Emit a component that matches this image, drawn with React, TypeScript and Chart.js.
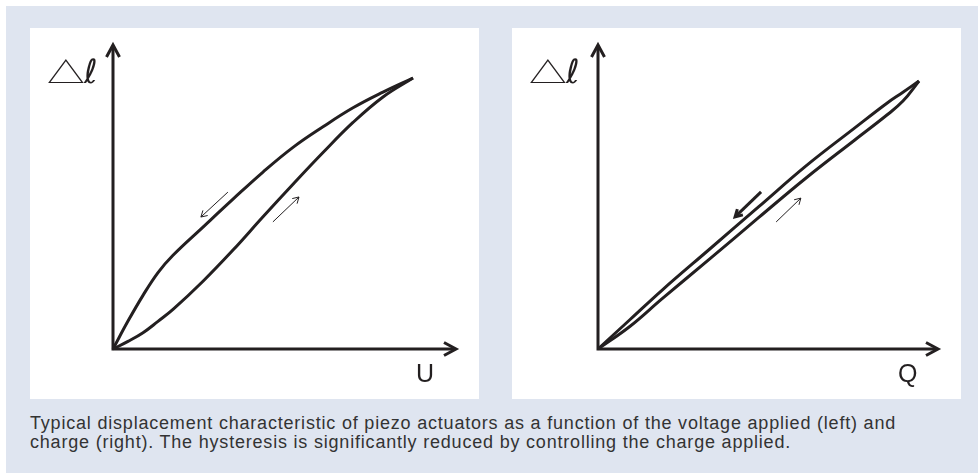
import React, { useEffect, useRef } from "react";
import { Chart, registerables } from "chart.js";

Chart.register(...registerables);

// ---- Data (axis units: 0..100 from origin to the loop's turning point) ----
// Left panel: displacement vs. voltage U
const voltageRiseX = [0, 5, 10, 15, 20, 30, 40, 50, 60, 70, 80, 90, 100];
const voltageRiseY = [0, 2.8, 6, 10.2, 14.6, 25, 36.5, 48.8, 60.8, 72.5, 83.6, 93, 100];
const voltageFallX = [0, 5, 10, 15, 20, 30, 40, 50, 60, 70, 80, 90, 100];
const voltageFallY = [0, 10.3, 19.8, 28.2, 34.6, 45, 55.3, 65.3, 74.4, 82, 89, 94.8, 100];

// Right panel: displacement vs. charge Q
const chargeRiseX = [0, 10, 20, 35, 50, 65, 80, 90, 95, 100];
const chargeRiseY = [0, 8.5, 18.8, 33.8, 49, 64, 78, 87.3, 92.5, 100];
const chargeFallX = [0, 10, 20, 35, 50, 65, 80, 90, 95, 100];
const chargeFallY = [0, 11, 22, 37.5, 53, 68.5, 82.5, 91.7, 95.8, 100];

// Direction arrows: [xStart, yStart, xHead, yHead]
const voltageFallArrow = [38.3, 57.9, 29.3, 48.7];
const voltageRiseArrow = [53.3, 46.9, 62, 56.1];
const chargeFallArrow = [50.8, 58.6, 42.7, 49.3];
const chargeRiseArrow = [55.5, 47.4, 63.2, 56.3];

// Axis extents (arrow tips)
const voltageAxisMax = [114.33, 112.18];
const chargeAxisMax = [105.92, 113.43];

// Texts
const yAxisTriangle = "△";
const yAxisEll = "ℓ";
const voltageLabel = "U";
const chargeLabel = "Q";
const captionLines = [
  "Typical displacement characteristic of piezo actuators as a function of the voltage applied (left) and",
  "charge (right). The hysteresis is significantly reduced by controlling the charge applied.",
];

const INK = "#231f20";
const BG = "#dfe5f0";

function chevron(
  ctx: CanvasRenderingContext2D,
  fx: number,
  fy: number,
  tx: number,
  ty: number,
  len: number,
  half: number
) {
  const dx = tx - fx;
  const dy = ty - fy;
  const d = Math.hypot(dx, dy) || 1;
  const ux = dx / d;
  const uy = dy / d;
  const bx = tx - ux * len;
  const by = ty - uy * len;
  ctx.beginPath();
  ctx.moveTo(bx - uy * half, by + ux * half);
  ctx.lineTo(tx, ty);
  ctx.lineTo(bx + uy * half, by - ux * half);
  ctx.stroke();
}

type PanelProps = {
  left: number;
  riseX: number[];
  riseY: number[];
  fallX: number[];
  fallY: number[];
  fallArrow: number[];
  riseArrow: number[];
  axisMax: number[];
  xLabel: string;
  padLeft: number;
  thickFall: boolean;
};

function Panel(p: PanelProps) {
  const ref = useRef<HTMLCanvasElement>(null);
  useEffect(() => {
    if (!ref.current) return;
    const pts = (xs: number[], ys: number[]) => xs.map((x, i) => ({ x, y: ys[i] }));
    const decor = {
      id: "decor",
      afterDatasetsDraw(chart: any) {
        const { ctx } = chart;
        const xs = chart.scales.x;
        const ys = chart.scales.y;
        const ox = xs.getPixelForValue(0);
        const oy = ys.getPixelForValue(0);
        const xr = xs.getPixelForValue(p.axisMax[0]);
        const yt = ys.getPixelForValue(p.axisMax[1]);
        ctx.save();
        ctx.strokeStyle = INK;
        ctx.fillStyle = INK;
        ctx.lineWidth = 3;
        ctx.lineJoin = "miter";
        ctx.lineCap = "butt";
        ctx.beginPath();
        ctx.moveTo(ox, yt + 1);
        ctx.lineTo(ox, oy);
        ctx.lineTo(xr - 1, oy);
        ctx.stroke();
        chevron(ctx, ox, oy, ox, yt, 12, 6.5);
        chevron(ctx, ox, oy, xr, oy, 12, 6.5);

        // direction arrows
        const drawArrow = (a: number[], thick: boolean) => {
          const x1 = xs.getPixelForValue(a[0]);
          const y1 = ys.getPixelForValue(a[1]);
          const x2 = xs.getPixelForValue(a[2]);
          const y2 = ys.getPixelForValue(a[3]);
          ctx.lineWidth = thick ? 3 : 1;
          ctx.beginPath();
          ctx.moveTo(x1, y1);
          ctx.lineTo(x2, y2);
          ctx.stroke();
          chevron(ctx, x1, y1, x2, y2, thick ? 7 : 6, thick ? 4 : 3.5);
        };
        drawArrow(p.fallArrow, p.thickFall);
        drawArrow(p.riseArrow, false);

        // labels
        ctx.textBaseline = "alphabetic";
        ctx.textAlign = "left";
        const lx = ox - p.padLeft;
        ctx.save();
        ctx.translate(lx + 17, yt + 37.5);
        ctx.scale(1.08, 0.8);
        ctx.font = '35px "Noto Sans CJK SC"';
        ctx.fillText(yAxisTriangle, 0, 0);
        ctx.restore();
        ctx.font = '33px "DejaVu Sans"';
        ctx.fillText(yAxisEll, lx + 54, yt + 38);
        ctx.font = '25px "Liberation Sans"';
        ctx.fillText(p.xLabel, xr - 40, oy + 33);
        ctx.restore();
      },
    };
    const lineStyle = {
      showLine: true,
      borderColor: INK,
      borderWidth: 3,
      pointRadius: 0,
      tension: 0.4,
      clip: false,
    };
    const chart = new Chart(ref.current, {
      type: "scatter",
      data: {
        datasets: [
          { data: pts(p.riseX, p.riseY), ...lineStyle } as any,
          { data: pts(p.fallX, p.fallY), ...lineStyle } as any,
        ],
      },
      options: {
        animation: false,
        responsive: false,
        events: [],
        layout: { padding: { left: p.padLeft, right: 23, top: 17, bottom: 50 } },
        plugins: { legend: { display: false }, tooltip: { enabled: false } },
        scales: {
          x: { type: "linear", display: false, min: 0, max: p.axisMax[0] },
          y: { type: "linear", display: false, min: 0, max: p.axisMax[1] },
        },
      },
      plugins: [decor],
    });
    return () => chart.destroy();
  }, []);
  return (
    <div
      style={{
        position: "absolute",
        left: p.left,
        top: 28,
        width: 449,
        height: 371,
        background: "#ffffff",
      }}
    >
      <canvas ref={ref} width={449} height={371} style={{ width: 449, height: 371, display: "block" }} />
    </div>
  );
}

export default function App() {
  return (
    <div style={{ position: "absolute", left: 0, top: 0, width: 978, height: 473, background: "#ffffff", overflow: "hidden" }}>
      <div style={{ position: "absolute", left: 6, top: 6, width: 972, height: 467, background: BG }} />
      <Panel
        left={30}
        riseX={voltageRiseX}
        riseY={voltageRiseY}
        fallX={voltageFallX}
        fallY={voltageFallY}
        fallArrow={voltageFallArrow}
        riseArrow={voltageRiseArrow}
        axisMax={voltageAxisMax}
        xLabel={voltageLabel}
        padLeft={83}
        thickFall={false}
      />
      <Panel
        left={512}
        riseX={chargeRiseX}
        riseY={chargeRiseY}
        fallX={chargeFallX}
        fallY={chargeFallY}
        fallArrow={chargeFallArrow}
        riseArrow={chargeRiseArrow}
        axisMax={chargeAxisMax}
        xLabel={chargeLabel}
        padLeft={86}
        thickFall={true}
      />
      <div
        style={{
          position: "absolute",
          left: 30,
          top: 414,
          font: '18px "Liberation Sans", Arial, sans-serif',
          lineHeight: "19px",
          color: "#333333",
          whiteSpace: "nowrap",
          letterSpacing: "0.8px",
        }}
      >
        {captionLines.map((l, i) => (
          <div key={i}>{l}</div>
        ))}
      </div>
    </div>
  );
}
